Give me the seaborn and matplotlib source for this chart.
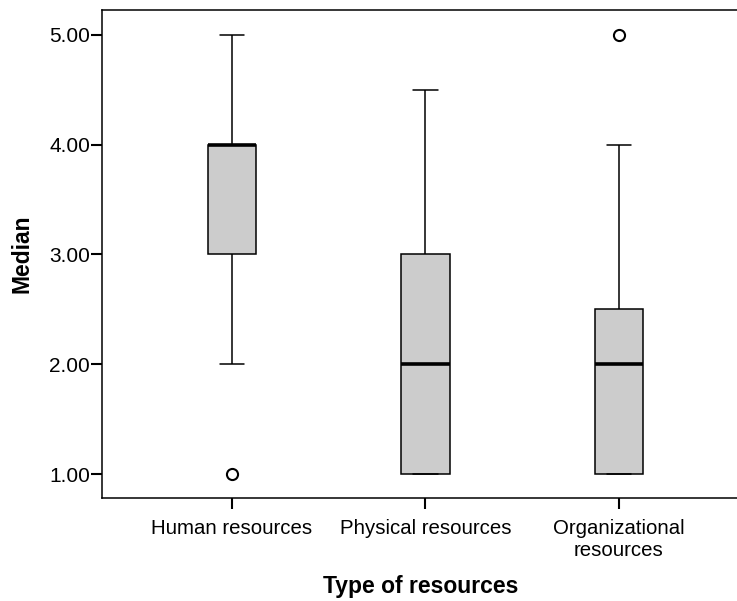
import numpy as np
import pandas as pd
import matplotlib
matplotlib.use("Agg")
import matplotlib.pyplot as plt
import seaborn as sns

categories = ["Human resources", "Physical resources", "Organizational\nresources"]
human_values = [1, 2, 3, 3, 3, 4, 4, 4, 4, 4, 4, 5]
physical_values = [1, 1, 1, 1, 2, 2, 2, 3, 3, 3, 4, 4.5]
organizational_values = [1, 1, 1, 1, 2, 2, 2, 2, 2.5, 2.5, 3, 4, 5]
y_ticks = [1.0, 2.0, 3.0, 4.0, 5.0]

df = pd.DataFrame({
    "Type of resources": [categories[0]] * len(human_values)
                         + [categories[1]] * len(physical_values)
                         + [categories[2]] * len(organizational_values),
    "Median": human_values + physical_values + organizational_values,
})

sns.set_theme(style="white")
plt.rcParams["font.family"] = ["Liberation Sans", "DejaVu Sans"]

fig = plt.figure(figsize=(7.37, 6.01), dpi=100)
ax_w = 647
ax = fig.add_axes([102 / 737, 103 / 601, ax_w / 737, 488 / 601])

sns.boxplot(
    data=df, x="Type of resources", y="Median", order=categories,
    color="#cccccc", width=0.25, linewidth=1.1, linecolor="black",
    saturation=1, ax=ax,
    boxprops=dict(facecolor="#cccccc", edgecolor="black", linewidth=1.1),
    medianprops=dict(color="black", linewidth=2.6),
    whiskerprops=dict(color="black", linewidth=1.1),
    capprops=dict(color="black", linewidth=1.1),
    flierprops=dict(marker="o", markersize=8, markerfacecolor="white",
                    markeredgecolor="black", markeredgewidth=1.5),
)

ax.set_xlim(-0.672, 2.672)
ax.set_ylim(0.782, 5.227)
ax.set_yticks(y_ticks)
ax.set_yticklabels([f"{v:.2f}" for v in y_ticks])

for side in ["left", "top", "bottom", "right"]:
    ax.spines[side].set_visible(True)
    ax.spines[side].set_color("black")
    ax.spines[side].set_linewidth(1.1)

ax.tick_params(axis="both", which="major", direction="out", length=8, width=1.5,
               color="black", labelsize=15, labelcolor="black", pad=0.5,
               left=True, bottom=True)
ax.tick_params(axis="x", pad=7, labelsize=14.7)

ax.set_xlabel("Type of resources", fontsize=16.5, fontweight="bold", color="black")
ax.set_ylabel("Median", fontsize=16.5, fontweight="bold", color="black")
ax.xaxis.set_label_coords((421 - 102) / ax_w, (498 - 575) / 488)
ax.yaxis.set_label_coords((34 - 102) / ax_w, 0.5)

fig.savefig("out.png", dpi=100, facecolor="white")
